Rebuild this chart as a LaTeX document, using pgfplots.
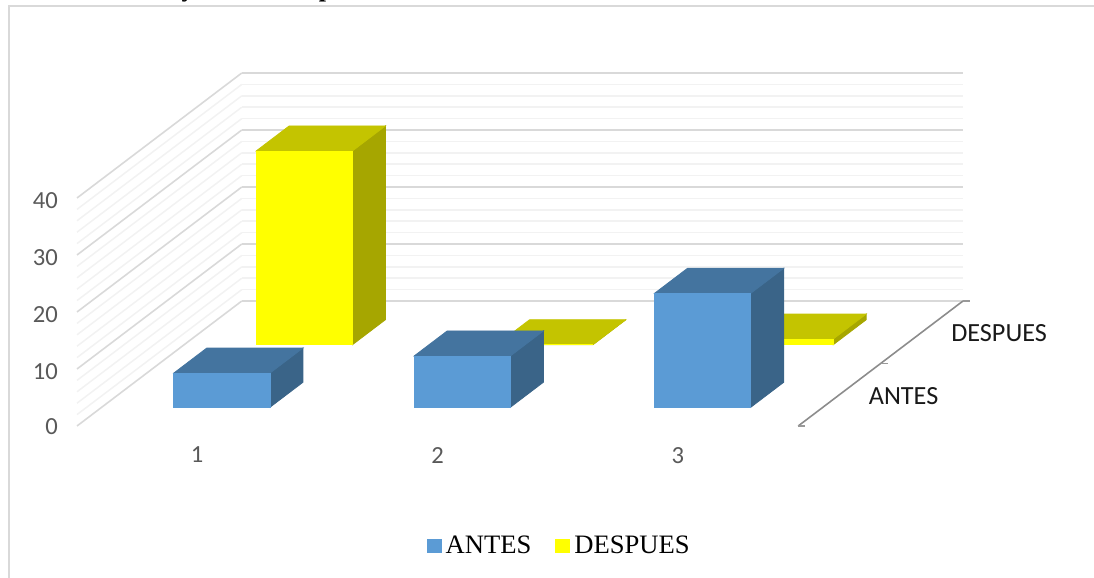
\documentclass[border=0pt]{standalone}
\usepackage{fontspec}
\usepackage{pgfplots}
\pgfplotsset{compat=1.18}
\setmainfont{Carlito}
\newfontfamily\serifface{Liberation Serif}
\definecolor{antesfront}{HTML}{5B9BD5}
\definecolor{antestop}{HTML}{44749F}
\definecolor{antesside}{HTML}{3A6488}
\definecolor{despfront}{HTML}{FFFF00}
\definecolor{desptop}{HTML}{C4C400}
\definecolor{despside}{HTML}{A6A600}
\definecolor{gridmajor}{HTML}{D9D9D9}
\definecolor{gridminor}{HTML}{F2F2F2}

% One block of the 3D column chart: #1 category start, #2 series start, #3 value, #4 colour stem
\newcommand{\blockthreeD}[4]{%
  \pgfmathsetmacro{\xa}{#1}\pgfmathsetmacro{\xb}{#1+0.4}%
  \pgfmathsetmacro{\ya}{#2}\pgfmathsetmacro{\yb}{#2+0.4}%
  \edef\temp{%
    \noexpand\addplot3[fill=#4side,draw=#4side,line width=0.4pt,forget plot] coordinates {(\xb,\ya,0) (\xb,\yb,0) (\xb,\yb,#3) (\xb,\ya,#3)} -- cycle;
    \noexpand\addplot3[fill=#4top,draw=#4top,line width=0.4pt,forget plot] coordinates {(\xa,\ya,#3) (\xb,\ya,#3) (\xb,\yb,#3) (\xa,\yb,#3)} -- cycle;
    \noexpand\addplot3[fill=#4front,draw=#4front,line width=0.4pt,forget plot] coordinates {(\xa,\ya,0) (\xb,\ya,0) (\xb,\ya,#3) (\xa,\ya,#3)} -- cycle;
  }\temp
}

\begin{document}
\begin{tikzpicture}
\useasboundingbox (0,0) rectangle (547pt,289pt);
\clip (0,0) rectangle (547pt,289pt);
% heading of the surrounding page, only its descenders reach this area
\node[anchor=base,inner sep=0pt,font=\fontsize{13}{15}\serifface\bfseries] at (94pt,290.6pt) {y};
\node[anchor=base,inner sep=0pt,font=\fontsize{13}{15}\serifface\bfseries] at (163pt,290.6pt) {p};
\draw[gridmajor,line width=1pt] (4.6pt,0) -- (4.6pt,286pt) -- (547pt,286pt);
\begin{axis}[
  at={(38.5pt,76pt)}, anchor=origin,
  x={(120.2pt,0pt)}, y={(41.2pt,31.25pt)}, z={(0pt,2.85pt)},
  xmin=0, xmax=3, ymin=0, ymax=2, zmin=0, zmax=40,
  clip=false,
  axis line style={draw=none},
  tick style={draw=none},
  xtick={0.5,1.5,2.5}, xticklabels={1,2,3},
  ytick={0.5,1.5}, yticklabels={ANTES,DESPUES},
  ztick={0,10,20,30,40},
  minor z tick num=4,
  zmajorgrids=true, zminorgrids=true,
  xmajorgrids=false, ymajorgrids=false,
  major z grid style={gridmajor,line width=0.8pt},
  minor z grid style={gridminor,line width=0.75pt},
  /pgf/number format/assume math mode=true,
  ticklabel style={font=\fontsize{12.3}{14}\selectfont,text=black!65},
  xticklabel style={xshift=3.7pt,yshift=-7pt},
  yticklabel style={text=black!90,font=\fontsize{13.1}{15}\selectfont,anchor=west,xshift=11.2pt,yshift=-0.5pt},
  zticklabel style={xshift=-6pt,yshift=2pt},
  legend columns=2,
  legend style={draw=none,fill=none,at={(241.6pt,-60pt)},anchor=center,font=\fontsize{13.3}{15}\serifface,
    /tikz/column 2/.style={column sep=10pt}},
  legend image code/.code={\fill[#1] (0pt,-3.5pt) rectangle (7.5pt,3.5pt);},
]
\addlegendimage{fill=antesfront,draw=none}\addlegendentry{ANTES}
\addlegendimage{fill=despfront,draw=none}\addlegendentry{DESPUES}
% depth axis with its tick marks
\addplot3[black!45,line width=0.8pt,forget plot] coordinates {(3,0,0) (3,2,0)};
\addplot3[black!40,line width=0.6pt,forget plot] coordinates {(3,0,0) (3.03,0,0)};
\addplot3[black!40,line width=0.6pt,forget plot] coordinates {(3,1,0) (3.03,1,0)};
\addplot3[black!40,line width=0.6pt,forget plot] coordinates {(3,2,0) (3.03,2,0)};
% DESPUES row first, since it lies behind
\blockthreeD{0.3}{1.3}{34}{desp}
\blockthreeD{1.3}{1.3}{0}{desp}
\blockthreeD{2.3}{1.3}{1}{desp}
% ANTES row
\blockthreeD{0.3}{0.3}{6}{antes}
\blockthreeD{1.3}{0.3}{9}{antes}
\blockthreeD{2.3}{0.3}{20}{antes}
\end{axis}
\end{tikzpicture}
\end{document}
